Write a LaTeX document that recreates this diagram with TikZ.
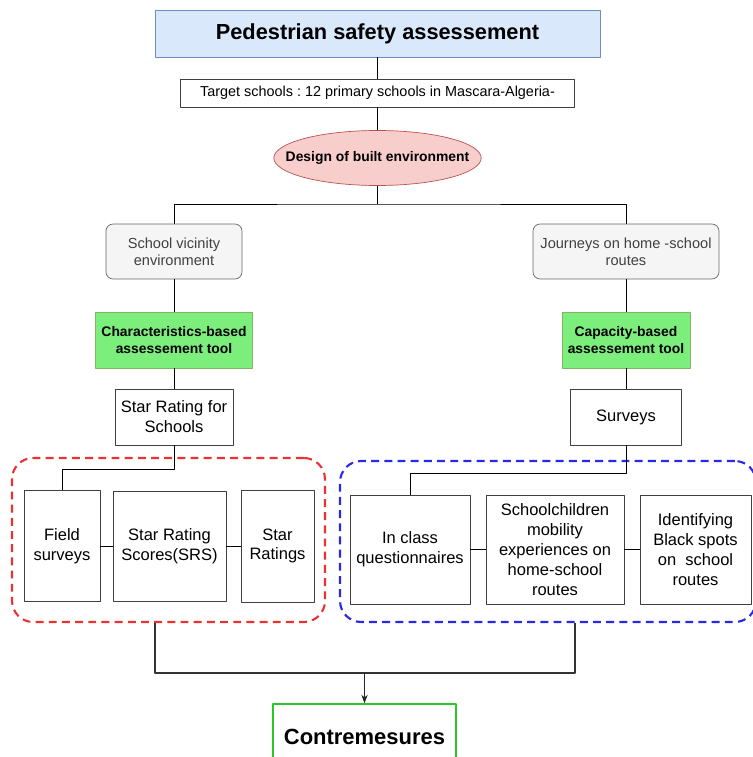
\documentclass[tikz,border=0pt]{standalone}
\usepackage{fontspec}
\setmainfont{Liberation Sans}
\usetikzlibrary{arrows.meta,shapes.geometric}
\definecolor{titleblue}{RGB}{218,232,252}
\definecolor{titleedge}{RGB}{108,142,191}
\definecolor{designred}{RGB}{248,206,204}
\definecolor{designedge}{RGB}{184,84,80}
\definecolor{toolgreen}{RGB}{124,238,124}
\definecolor{tooledge}{RGB}{130,179,102}
\definecolor{envgray}{RGB}{245,245,245}
\definecolor{envedge}{RGB}{102,102,102}
\definecolor{groupred}{RGB}{235,50,50}
\definecolor{groupblue}{RGB}{40,40,230}
\definecolor{contregreen}{RGB}{40,200,40}
\frenchspacing
\begin{document}
\begin{tikzpicture}[x=0.02cm, y=-0.02cm, line join=round, >=Stealth,
	box/.style={draw=black!75, fill=white, align=center, inner sep=1pt, font=\fontsize{9.4}{11.3}\selectfont},
	envbox/.style={draw=envedge, fill=envgray, rounded corners=4pt, align=center, text=black!75, font=\fontsize{8.3}{9.6}\selectfont},
	toolbox/.style={draw=tooledge, fill=toolgreen, align=center, font=\bfseries\fontsize{7.9}{9.4}\selectfont},
	group/.style={dashed, dash pattern=on 4.5pt off 3pt, line width=1.2pt, rounded corners=12pt},
	bus/.style={line width=1.1pt, draw=black!80}]
	\useasboundingbox (0,0) rectangle (753,757);
	\node[draw=titleedge, fill=titleblue, minimum width=8.9cm, minimum height=0.94cm, font=\bfseries\fontsize{12.4}{15}\selectfont] (title) at (377.5,33.5) {Pedestrian safety assessement};
	\node[box, minimum width=7.88cm, minimum height=0.56cm, font=\fontsize{8.2}{10}\selectfont] (target) at (377.5,93) {Target schools : 12 primary schools in Mascara-Algeria-};
	\node[ellipse, draw=designedge, fill=designred, inner xsep=-10.5pt, inner ysep=0pt, minimum width=4.14cm, minimum height=1.1cm, font=\bfseries\fontsize{7.9}{9.4}\selectfont] (design) at (377.5,158) {Design of built environment};
	\node[envbox, minimum width=2.72cm, minimum height=1.1cm] (vicinity) at (174,251.5) {School vicinity\\environment};
	\node[envbox, minimum width=3.72cm, minimum height=1.1cm] (journeys) at (626,251.5) {Journeys on home -school\\routes};
	\node[toolbox, minimum width=3.08cm, minimum height=1.12cm] (charTool) at (174,340) {Characteristics-based\\assessement tool};
	\node[toolbox, minimum width=2.42cm, minimum height=1.12cm] (capTool) at (626,340) {Capacity-based\\assessement tool};
	\node[box, minimum width=2.36cm, minimum height=1.12cm] (starRating) at (174,417) {Star Rating for\\Schools};
	\node[box, minimum width=2.22cm, minimum height=1.12cm] (surveys) at (626,417) {Surveys};
	% dashed groups
	\node[group, draw=groupred, minimum width=6.26cm, minimum height=3.28cm] (redGroup) at (168.5,540) {};
	\node[group, draw=groupblue, minimum width=8.32cm, minimum height=3.22cm] (blueGroup) at (548,541.5) {};
	\node[box, minimum width=1.52cm, minimum height=2.22cm] (field) at (62,546) {Field\\surveys};
	\node[box, minimum width=2.26cm, minimum height=2.2cm] (srs) at (169.5,546) {Star Rating\\Scores(SRS)};
	\node[box, minimum width=1.46cm, minimum height=2.24cm] (starRatings) at (277.5,546) {Star\\Ratings};
	\node[box, minimum width=2.4cm, minimum height=2.18cm] (inClass) at (410,549.5) {In class\\questionnaires};
	\node[box, minimum width=2.76cm, minimum height=2.18cm] (mobility) at (555,549.5) {Schoolchildren\\mobility\\experiences on\\home-school\\routes};
	\node[box, minimum width=2.22cm, minimum height=2.18cm] (blackSpots) at (695.5,549.5) {Identifying\\Black spots\\on~ school\\routes};
	\node[draw=contregreen, line width=0.9pt, fill=white, minimum width=3.66cm, minimum height=1.3cm, font=\bfseries\fontsize{12.5}{15}\selectfont] (contre) at (364.5,736.5) {Contremesures};
	% connectors
	\coordinate (split) at (377.5,204);
	\draw (title) -- (target);
	\draw (target) -- (design);
	\draw (design.south) -- (split);
	\draw (vicinity.north) |- (split) -| (journeys.north);
	\draw (vicinity) -- (charTool);
	\draw (charTool) -- (starRating);
	\draw (journeys) -- (capTool);
	\draw (capTool) -- (surveys);
	\draw (starRating.south) -- ++(0,24) -| (field.north);
	\draw (surveys.south) -- ++(0,28) -| (inClass.north);
	\draw (field) -- (srs);
	\draw (srs) -- (starRatings);
	\draw (inClass) -- (mobility);
	\draw (mobility) -- (blackSpots);
	\path (redGroup.south) ++(-13.5,0) coordinate (redOut);
	\path (blueGroup.south) ++(27,0) coordinate (blueOut);
	\coordinate (merge) at (364.5,673);
	\draw[bus] (redOut) |- (merge) -| (blueOut);
	\draw[->, draw=black!85] (merge) -- (contre.north);
\end{tikzpicture}
\end{document}
